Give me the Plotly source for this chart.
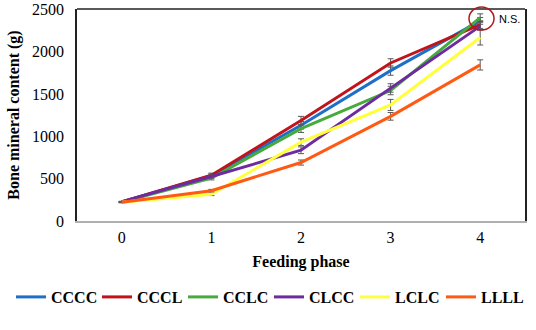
import plotly.graph_objects as go

phases = ["0", "1", "2", "3", "4"]
series_names = ["CCCC", "CCCL", "CCLC", "CLCC", "LCLC", "LLLL"]
cccc = [225, 535, 1130, 1775, 2362]
cccl = [225, 540, 1185, 1865, 2318]
cclc = [225, 505, 1090, 1540, 2400]
clcc = [228, 525, 835, 1570, 2300]
lclc = [220, 315, 930, 1370, 2165]
llll = [222, 358, 690, 1235, 1842]
err_cccc = [5, 20, 45, 55, 40]
err_cccl = [5, 25, 50, 50, 45]
err_cclc = [5, 20, 45, 50, 45]
err_clcc = [5, 20, 40, 50, 45]
err_lclc = [5, 15, 40, 65, 88]
err_llll = [5, 15, 30, 45, 60]
colors = ["#1f6fc8", "#c0141a", "#46aa3c", "#6e2aa0", "#ffff3c", "#ff5a14"]

values = [cccc, cccl, cclc, clcc, lclc, llll]
errors = [err_cccc, err_cccl, err_cclc, err_clcc, err_lclc, err_llll]

FONT = "Liberation Serif, Times New Roman, serif"
L, R, T, B = 77, 11, 9, 109
PW, PH = 536 - L - R, 330 - T - B

fig = go.Figure()
for name, v, e, c in zip(series_names, values, errors, colors):
    fig.add_trace(go.Scatter(
        x=phases, y=v, name=name, mode="lines",
        line=dict(color=c, width=3),
        error_y=dict(type="data", array=e, visible=True, color="#595959",
                     thickness=1, width=3),
    ))

fig.update_layout(
    width=536, height=330,
    margin=dict(l=L, r=R, t=T, b=B, autoexpand=False),
    paper_bgcolor="white", plot_bgcolor="white",
    font=dict(family=FONT, size=16, color="black"),
    showlegend=True,
    legend=dict(orientation="h", x=(11 - L) / PW, xanchor="left", xref="paper",
                y=-(297 - (T + PH)) / PH, yanchor="middle",
                font=dict(family=FONT, size=16, color="black", weight="bold"),
                entrywidth=41, entrywidthmode="pixels", itemwidth=30,
                tracegroupgap=0),
    xaxis=dict(type="category", range=[-0.5, 4.5], showgrid=False,
               automargin=False,
               showline=True, linecolor="#b0b0b0", linewidth=1.5,
               ticks="outside", ticklen=1, tickcolor="rgba(0,0,0,0)",
               tickfont=dict(size=16),
               title=dict(text="<b>Feeding phase</b>", standoff=11,
                          font=dict(size=16))),
    yaxis=dict(range=[0, 2502], tickvals=[0, 500, 1000, 1500, 2000, 2500],
               showgrid=False, automargin=False,
               showline=True, linecolor="#222222", linewidth=1.5, mirror=True,
               ticks="outside", ticklen=8, tickcolor="rgba(0,0,0,0)",
               zeroline=False,
               tickfont=dict(size=16),
               title=dict(text="<b>Bone mineral content (g)</b>", standoff=8,
                          font=dict(size=16))),
    shapes=[
        dict(type="line", xref="paper", yref="paper", x0=0, x1=1, y0=1, y1=1,
             line=dict(color="#222222", width=1.5)),
        dict(type="circle", xref="paper", yref="paper",
             x0=(469 - L) / PW, x1=(494 - L) / PW,
             y0=(T + PH - 30) / PH, y1=(T + PH - 7) / PH,
             line=dict(color="#b01a1a", width=1.5)),
    ],
    annotations=[
        dict(text="N.S.", xref="paper", yref="paper",
             x=(497 - L) / PW, y=(T + PH - 19) / PH,
             xanchor="left", yanchor="middle", showarrow=False,
             font=dict(family="Liberation Sans, Arial, sans-serif", size=11,
                       color="black")),
    ],
)

fig.write_html("out.html",
               config={"displayModeBar": False},
               post_script="document.body.style.margin='0';")
